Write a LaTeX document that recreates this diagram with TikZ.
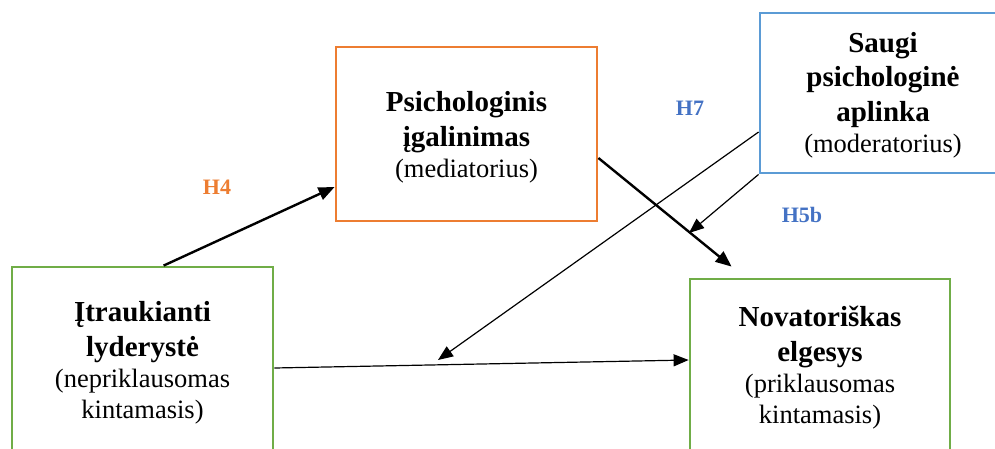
\documentclass[tikz,border=0pt]{standalone}
\usepackage{fontspec}
\setmainfont{Liberation Serif}
\usetikzlibrary{arrows.meta,calc}
\definecolor{cgreen}{HTML}{70AD47}
\definecolor{corange}{HTML}{ED7D31}
\definecolor{cblue}{HTML}{5B9BD5}
\definecolor{clab}{HTML}{4472C4}
\newcommand{\fbld}{\fontsize{29}{34.5}\selectfont\bfseries}
\newcommand{\freg}{\fontsize{26.5}{31}\selectfont\mdseries}
\begin{document}
\begin{tikzpicture}[x=1pt,y=1pt,
  boxnode/.style={draw,line width=2.8pt,inner sep=0pt,fill=none},
  txt/.style={align=center,inner sep=0pt,anchor=base,font=\freg},
  thickarr/.style={line width=2.4pt,-{Triangle[length=16pt,width=13pt]}},
  thinarr/.style={line width=1.2pt,-{Triangle[length=15pt,width=12pt]}},
  hlab/.style={font=\fontsize{22}{26}\selectfont\bfseries}]
\useasboundingbox (0,0) rectangle (995,448);
\clip (0,0) rectangle (995,448);
\fill[white] (0,0) rectangle (995,448);
% boxes
\node[boxnode,cgreen,minimum width=261pt,minimum height=211pt] (lb) at (142.5,75.5) {};
\node[boxnode,corange,minimum width=261pt,minimum height=174pt] (ob) at (466.5,314) {};
\node[boxnode,cblue,minimum width=246pt,minimum height=160pt] (bb) at (883,355) {};
\node[boxnode,cgreen,minimum width=260pt,minimum height=199pt] (rb) at (820,69.5) {};
% texts (anchor base = last line)
\node[txt] (lt) at (142.5,30) {\fbld Įtraukianti\\[3.5pt]\fbld lyderystė\\\freg (nepriklausomas\\\freg kintamasis)};
\node[txt] (ot) at (466.5,271) {\fbld Psichologinis\\[3.5pt]\fbld įgalinimas\\\freg (mediatorius)};
\node[txt] (bt) at (883,296) {\fbld Saugi\\[3.5pt]\fbld psichologinė\\[3.5pt]\fbld aplinka\\\freg (moderatorius)};
\node[txt] (rt) at (820,25) {\fbld Novatoriškas\\[3.5pt]\fbld elgesys\\\freg (priklausomas\\\freg kintamasis)};
% labels
\node[hlab,corange] (h4) at (217,261) {H4};
\node[hlab,clab] (h7) at (690,340) {H7};
\node[hlab,clab] (h5b) at (802,233) {H5b};
% connectors
\coordinate (mid) at (689,215);
\coordinate (cx) at (438,88);
\draw[thickarr] ([xshift=153pt]lb.north west) -- ([yshift=-53pt]ob.west);
\draw[thickarr] ([yshift=-24pt]ob.east) -- ([shift={(43pt,11pt)}]rb.north west);
\draw[thinarr] ([yshift=-39pt]bb.west) -- (cx);
\draw[thinarr] (bb.south west) -- (mid);
\draw[thinarr] ([yshift=4.5pt]lb.east) -- ([yshift=18.5pt]rb.west);
\end{tikzpicture}
\end{document}
